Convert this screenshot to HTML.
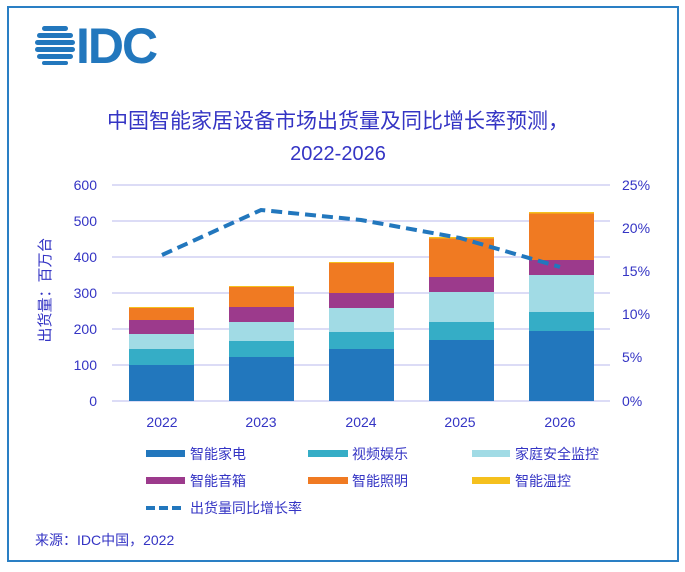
<!DOCTYPE html>
<html><head><meta charset="utf-8"><style>
body{margin:0;background:#fff}
svg text{font-family:"Liberation Sans","Noto Sans CJK SC",sans-serif}
</style></head><body>
<svg width="685" height="567" viewBox="0 0 685 567" xmlns="http://www.w3.org/2000/svg">
<rect x="8" y="7" width="670" height="554" fill="#fff" stroke="#2a7fc4" stroke-width="2"/>
<!-- logo -->
<g fill="#2277bd">
<rect x="42" y="26" width="26" height="5" rx="2.5"/>
<rect x="37" y="33" width="36" height="5" rx="2.5"/>
<rect x="35" y="40" width="40" height="5" rx="2.5"/>
<rect x="35" y="47" width="40" height="5" rx="2.5"/>
<rect x="37" y="54" width="36" height="5" rx="2.5"/>
<rect x="42" y="61" width="26" height="4" rx="2"/>
</g>
<text x="76" y="63" font-size="50" font-weight="bold" fill="#2277bd" style="letter-spacing:-2px">IDC</text>
<text x="338" y="128" font-size="21" fill="#3434c4" text-anchor="middle">中国智能家居设备市场出货量及同比增长率预测，</text>
<text x="338" y="160" font-size="20" fill="#3434c4" text-anchor="middle">2022-2026</text>
<!-- grid -->
<g stroke="#c8c8f0" stroke-width="1.2">
<line x1="112" x2="610" y1="185" y2="185"/><line x1="112" x2="610" y1="221" y2="221"/>
<line x1="112" x2="610" y1="257" y2="257"/><line x1="112" x2="610" y1="293" y2="293"/>
<line x1="112" x2="610" y1="329" y2="329"/><line x1="112" x2="610" y1="365" y2="365"/>
<line x1="112" x2="610" y1="401" y2="401"/>
</g>
<g font-size="14" fill="#3434c4" text-anchor="end">
<text x="97" y="190">600</text><text x="97" y="226">500</text><text x="97" y="262">400</text>
<text x="97" y="298">300</text><text x="97" y="334">200</text><text x="97" y="370">100</text><text x="97" y="406">0</text>
</g>
<g font-size="14" fill="#3434c4">
<text x="622" y="190">25%</text><text x="622" y="233">20%</text><text x="622" y="276">15%</text>
<text x="622" y="319">10%</text><text x="622" y="362">5%</text><text x="622" y="406">0%</text>
</g>
<text transform="translate(50,290) rotate(-90)" font-size="15" fill="#3434c4" text-anchor="middle">出货量：百万台</text>
<!-- bars -->
<g>
<rect x="129" y="365" width="65" height="36" fill="#2277bd"/>
<rect x="129" y="349" width="65" height="16" fill="#35adc6"/>
<rect x="129" y="334" width="65" height="15" fill="#a1dbe5"/>
<rect x="129" y="320" width="65" height="14" fill="#9c3a8c"/>
<rect x="129" y="308" width="65" height="12" fill="#f07a22"/>
<rect x="129" y="307" width="65" height="1" fill="#f5c01d"/>

<rect x="229" y="357" width="65" height="44" fill="#2277bd"/>
<rect x="229" y="341" width="65" height="16" fill="#35adc6"/>
<rect x="229" y="322" width="65" height="19" fill="#a1dbe5"/>
<rect x="229" y="307" width="65" height="15" fill="#9c3a8c"/>
<rect x="229" y="287" width="65" height="20" fill="#f07a22"/>
<rect x="229" y="286" width="65" height="1" fill="#f5c01d"/>

<rect x="329" y="349" width="65" height="52" fill="#2277bd"/>
<rect x="329" y="332" width="65" height="17" fill="#35adc6"/>
<rect x="329" y="308" width="65" height="24" fill="#a1dbe5"/>
<rect x="329" y="293" width="65" height="15" fill="#9c3a8c"/>
<rect x="329" y="263" width="65" height="30" fill="#f07a22"/>
<rect x="329" y="262" width="65" height="1" fill="#f5c01d"/>

<rect x="429" y="340" width="65" height="61" fill="#2277bd"/>
<rect x="429" y="322" width="65" height="18" fill="#35adc6"/>
<rect x="429" y="292" width="65" height="30" fill="#a1dbe5"/>
<rect x="429" y="277" width="65" height="15" fill="#9c3a8c"/>
<rect x="429" y="238" width="65" height="39" fill="#f07a22"/>
<rect x="429" y="237" width="65" height="1.5" fill="#f5c01d"/>

<rect x="529" y="331" width="65" height="70" fill="#2277bd"/>
<rect x="529" y="312" width="65" height="19" fill="#35adc6"/>
<rect x="529" y="275" width="65" height="37" fill="#a1dbe5"/>
<rect x="529" y="260" width="65" height="15" fill="#9c3a8c"/>
<rect x="529" y="213" width="65" height="47" fill="#f07a22"/>
<rect x="529" y="212" width="65" height="1.5" fill="#f5c01d"/>
</g>
<polyline points="162,255 261,210 361,220 460,238 560,267" fill="none" stroke="#2277bd" stroke-width="4" stroke-dasharray="11,6"/>
<g font-size="14" fill="#3434c4" text-anchor="middle">
<text x="162" y="427">2022</text><text x="261" y="427">2023</text><text x="361" y="427">2024</text>
<text x="460" y="427">2025</text><text x="560" y="427">2026</text>
</g>
<!-- legend -->
<g font-size="14" fill="#3434c4">
<rect x="146" y="450" width="39" height="7" fill="#2277bd"/><text x="190" y="459">智能家电</text>
<rect x="308" y="450" width="40" height="7" fill="#35adc6"/><text x="352" y="459">视频娱乐</text>
<rect x="472" y="450" width="38" height="7" fill="#a1dbe5"/><text x="515" y="459">家庭安全监控</text>
<rect x="146" y="477" width="39" height="7" fill="#9c3a8c"/><text x="190" y="486">智能音箱</text>
<rect x="308" y="477" width="40" height="7" fill="#f07a22"/><text x="352" y="486">智能照明</text>
<rect x="472" y="477" width="38" height="7" fill="#f5c01d"/><text x="515" y="486">智能温控</text>
<line x1="146" x2="185" y1="508" y2="508" stroke="#2277bd" stroke-width="4" stroke-dasharray="9,4"/><text x="190" y="513">出货量同比增长率</text>
<text x="35" y="545">来源：IDC中国，2022</text>
</g>
</svg>
</body></html>
